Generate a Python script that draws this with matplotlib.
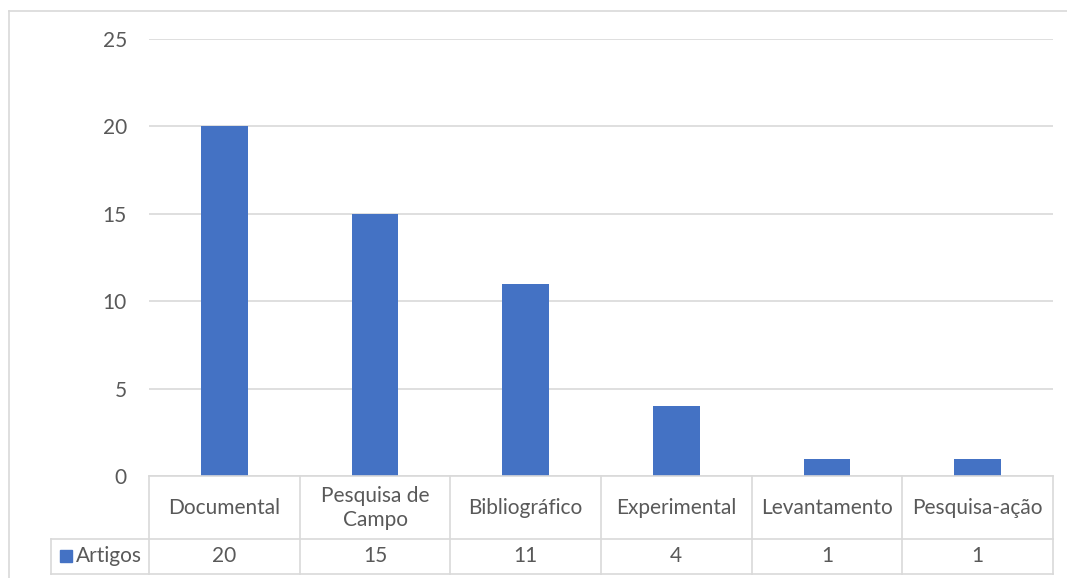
import matplotlib
matplotlib.use("Agg")
import matplotlib.pyplot as plt
from matplotlib.patches import Rectangle
from matplotlib.lines import Line2D

categories = ["Documental", "Pesquisa de\nCampo", "Bibliográfico", "Experimental", "Levantamento", "Pesquisa-ação"]
artigos = [20, 15, 11, 4, 1, 1]
series_name = "Artigos"
yticks = [0, 5, 10, 15, 20, 25]

W, H = 1067, 578
BAR = "#4472C4"
GRID = "#d9d9d9"
TXT = "#595959"
FS = 15
plt.rcParams["font.family"] = ["Lato", "DejaVu Sans"]

fig = plt.figure(figsize=(W / 100, H / 100), dpi=100)

def fx(px):
    return px / W

def fy(py):
    return 1 - py / H

# chart frame
fig.add_artist(Line2D([fx(9), 1.0], [fy(11), fy(11)], color=GRID, lw=1.2))
fig.add_artist(Line2D([fx(9), fx(9)], [fy(11), 0.0], color=GRID, lw=1.2))

left, right, top, zero = 149, 1053, 39, 476
ax = fig.add_axes([fx(left), fy(zero), fx(right - left), (zero - top) / H])
n = len(categories)
x = list(range(n))
ax.bar(x, artigos, width=0.31, color=BAR, zorder=3)
ax.set_xlim(-0.5, n - 0.5)
ax.set_ylim(0, 25)
ax.set_yticks(yticks)
ax.set_yticklabels([str(t) for t in yticks], fontsize=FS, color=TXT)
ax.tick_params(axis="y", length=0, pad=16)
ax.set_xticks([])
ax.grid(axis="y", color=GRID, lw=1.2, zorder=0)
for s in ax.spines.values():
    s.set_visible(False)

# data table below the plot
row1_bot, row2_bot = 539, 574
tab = fig.add_axes([fx(left), fy(row2_bot), fx(right - left), (row2_bot - zero) / H])
tab.set_xlim(-0.5, n - 0.5)
tab.set_ylim(row2_bot, zero)
tab.axis("off")
colw = (right - left) / n
lab_left = -0.5 - 98 / colw
lk = dict(color=GRID, lw=1.2, clip_on=False)
tab.plot([-0.5, n - 0.5], [zero, zero], **lk)
tab.plot([lab_left, n - 0.5], [row1_bot, row1_bot], **lk)
tab.plot([lab_left, n - 0.5], [row2_bot, row2_bot], **lk)
for i in range(n + 1):
    tab.plot([i - 0.5, i - 0.5], [zero, row2_bot], **lk)
tab.plot([lab_left] * 2, [row1_bot, row2_bot], **lk)

for i, (c, v) in enumerate(zip(categories, artigos)):
    tab.text(i, (zero + row1_bot) / 2 + 1, c, ha="center", va="center",
             fontsize=FS, color=TXT, linespacing=1.25)
    tab.text(i, (row1_bot + row2_bot) / 2, str(v), ha="center", va="center",
             fontsize=FS, color=TXT)

kx = -0.5 - 89 / colw
tab.add_patch(Rectangle((kx, 550), 12 / colw, 12, color=BAR, clip_on=False))
tab.text(kx + 16 / colw, (row1_bot + row2_bot) / 2, series_name, ha="left",
         va="center", fontsize=FS, color=TXT)

fig.savefig("out.png", dpi=100)
